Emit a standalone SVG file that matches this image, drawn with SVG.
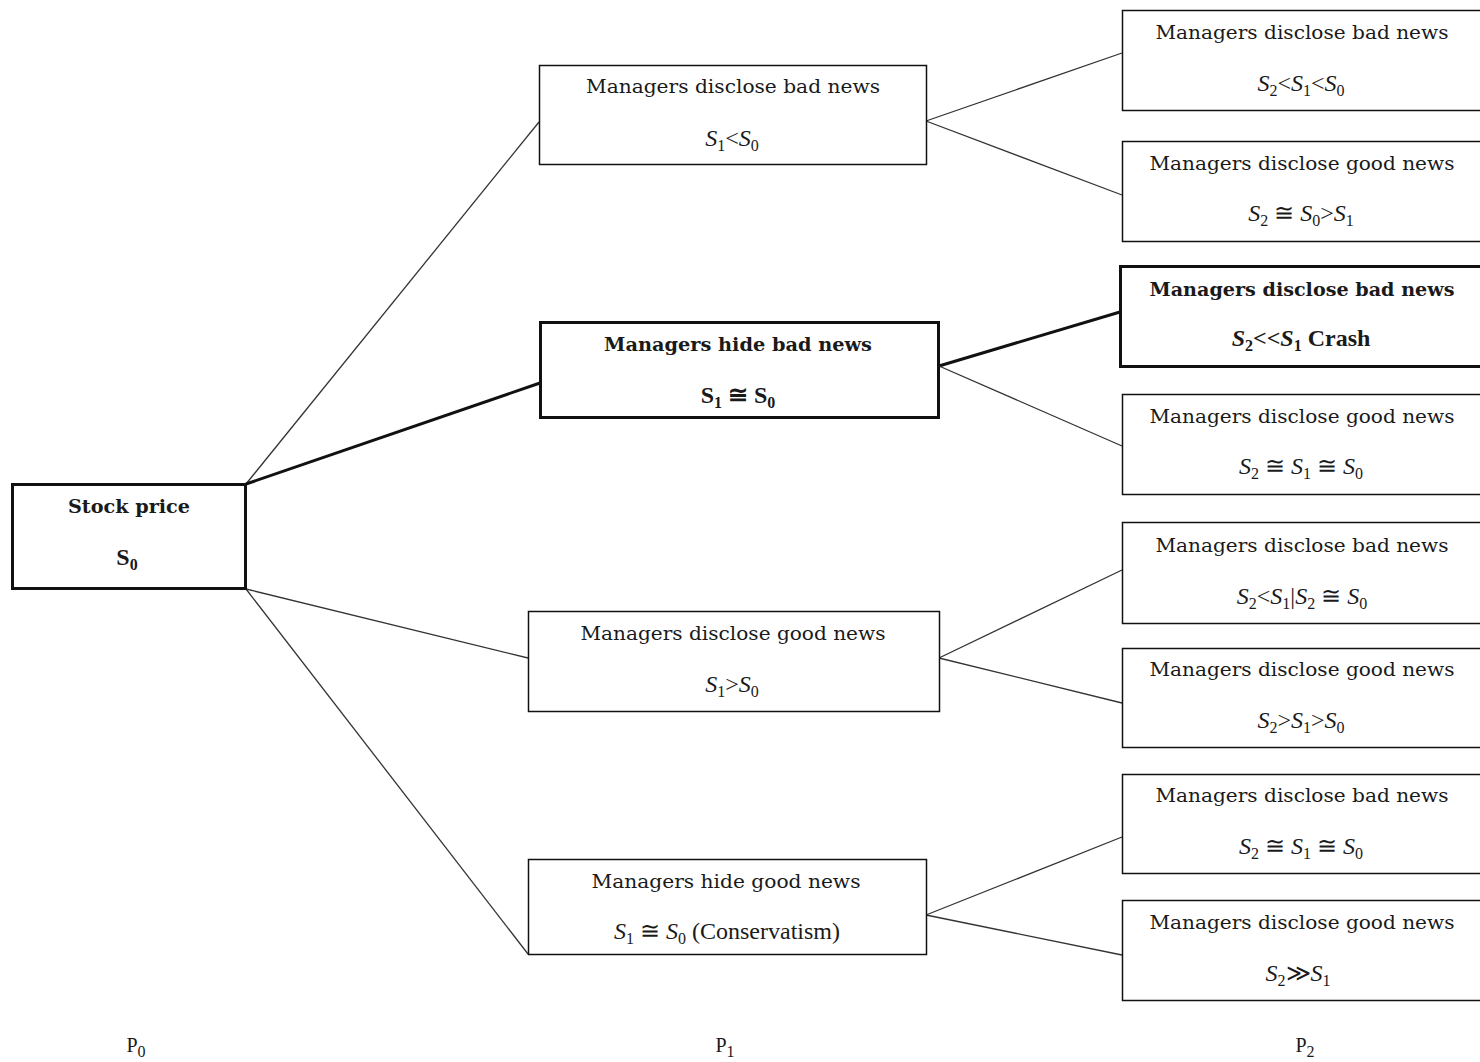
<svg xmlns="http://www.w3.org/2000/svg" width="1480" height="1062" viewBox="0 0 1480 1062">
<style>
  .box{fill:#fff;stroke:#111;stroke-width:1.5}
  .bold{stroke-width:3}
  .t{font-family:"DejaVu Serif","Liberation Serif",serif;font-size:18px;fill:#1a1a1a;text-anchor:middle}
  .f{font-family:"Liberation Serif","DejaVu Serif",serif;font-size:24px;fill:#1a1a1a;text-anchor:middle}
  .b{font-weight:bold}
  .i{font-style:italic}
  .sub{font-size:16px}
  .c{stroke:#333;stroke-width:1.3;fill:none}
  .ct{stroke:#111;stroke-width:3;fill:none}
</style>
<rect width="1480" height="1062" fill="#fff"/>
<g id="connectors">
  <line class="c" x1="246" y1="484" x2="539" y2="122"/>
  <line class="ct" x1="246" y1="484" x2="540" y2="383"/>
  <line class="c" x1="246" y1="589" x2="528" y2="658"/>
  <line class="c" x1="246" y1="589" x2="528" y2="954"/>
  <line class="c" x1="926" y1="121" x2="1122" y2="53"/>
  <line class="c" x1="926" y1="121" x2="1122" y2="195"/>
  <line class="ct" x1="939" y1="366" x2="1120" y2="312"/>
  <line class="c" x1="939" y1="366" x2="1122" y2="446"/>
  <line class="c" x1="939" y1="658" x2="1122" y2="570"/>
  <line class="c" x1="939" y1="658" x2="1122" y2="703"/>
  <line class="c" x1="926" y1="915" x2="1122" y2="837"/>
  <line class="c" x1="926" y1="915" x2="1122" y2="955"/>
</g>
<g id="root">
  <rect class="box bold" x="12.5" y="484.5" width="233" height="104"/>
  <text class="t b" x="129" y="513" textLength="122" lengthAdjust="spacingAndGlyphs">Stock price</text>
  <text class="f b" x="127" y="565">S<tspan class="sub" dy="5">0</tspan></text>
</g>
<g id="p1-bad-disclose">
  <rect class="box" x="539.5" y="65.5" width="387" height="99"/>
  <text class="t" x="733" y="93" textLength="294" lengthAdjust="spacingAndGlyphs">Managers disclose bad news</text>
  <text class="f" x="732" y="146"><tspan class="i">S</tspan><tspan class="sub" dy="5">1</tspan><tspan dy="-5">&lt;</tspan><tspan class="i">S</tspan><tspan class="sub" dy="5">0</tspan></text>
</g>
<g id="p1-bad-hide">
  <rect class="box bold" x="540.5" y="322.5" width="398" height="95"/>
  <text class="t b" x="738" y="351" textLength="268" lengthAdjust="spacingAndGlyphs">Managers hide bad news</text>
  <text class="f b" x="738" y="403">S<tspan class="sub" dy="5">1</tspan><tspan dy="-5"> ≅ S</tspan><tspan class="sub" dy="5">0</tspan></text>
</g>
<g id="p1-good-disclose">
  <rect class="box" x="528.5" y="611.5" width="411" height="100"/>
  <text class="t" x="733" y="640" textLength="305" lengthAdjust="spacingAndGlyphs">Managers disclose good news</text>
  <text class="f" x="732" y="692"><tspan class="i">S</tspan><tspan class="sub" dy="5">1</tspan><tspan dy="-5">&gt;</tspan><tspan class="i">S</tspan><tspan class="sub" dy="5">0</tspan></text>
</g>
<g id="p1-good-hide">
  <rect class="box" x="528.5" y="859.5" width="398" height="95"/>
  <text class="t" x="726" y="888" textLength="269" lengthAdjust="spacingAndGlyphs">Managers hide good news</text>
  <text class="f" x="727" y="939"><tspan class="i">S</tspan><tspan class="sub" dy="5">1</tspan><tspan dy="-5"> ≅ </tspan><tspan class="i">S</tspan><tspan class="sub" dy="5">0</tspan><tspan dy="-5"> (Conservatism)</tspan></text>
</g>
<g id="p2-1">
  <rect class="box" x="1122.5" y="10.5" width="370" height="100"/>
  <text class="t" x="1302" y="39" textLength="293" lengthAdjust="spacingAndGlyphs">Managers disclose bad news</text>
  <text class="f" x="1301" y="91"><tspan class="i">S</tspan><tspan class="sub" dy="5">2</tspan><tspan dy="-5">&lt;</tspan><tspan class="i">S</tspan><tspan class="sub" dy="5">1</tspan><tspan dy="-5">&lt;</tspan><tspan class="i">S</tspan><tspan class="sub" dy="5">0</tspan></text>
</g>
<g id="p2-2">
  <rect class="box" x="1122.5" y="141.5" width="370" height="100"/>
  <text class="t" x="1302" y="170" textLength="305" lengthAdjust="spacingAndGlyphs">Managers disclose good news</text>
  <text class="f" x="1301" y="221"><tspan class="i">S</tspan><tspan class="sub" dy="5">2</tspan><tspan dy="-5"> ≅ </tspan><tspan class="i">S</tspan><tspan class="sub" dy="5">0</tspan><tspan dy="-5">&gt;</tspan><tspan class="i">S</tspan><tspan class="sub" dy="5">1</tspan></text>
</g>
<g id="p2-3">
  <rect class="box bold" x="1120.5" y="266.5" width="372" height="100"/>
  <text class="t b" x="1302" y="296" textLength="305" lengthAdjust="spacingAndGlyphs">Managers disclose bad news</text>
  <text class="f b" x="1301" y="346"><tspan class="i">S</tspan><tspan class="sub" dy="5">2</tspan><tspan dy="-5">&lt;&lt;</tspan><tspan class="i">S</tspan><tspan class="sub" dy="5">1</tspan><tspan dy="-5"> Crash</tspan></text>
</g>
<g id="p2-4">
  <rect class="box" x="1122.5" y="394.5" width="370" height="100"/>
  <text class="t" x="1302" y="423" textLength="305" lengthAdjust="spacingAndGlyphs">Managers disclose good news</text>
  <text class="f" x="1301" y="474"><tspan class="i">S</tspan><tspan class="sub" dy="5">2</tspan><tspan dy="-5"> ≅ </tspan><tspan class="i">S</tspan><tspan class="sub" dy="5">1</tspan><tspan dy="-5"> ≅ </tspan><tspan class="i">S</tspan><tspan class="sub" dy="5">0</tspan></text>
</g>
<g id="p2-5">
  <rect class="box" x="1122.5" y="522.5" width="370" height="101"/>
  <text class="t" x="1302" y="552" textLength="293" lengthAdjust="spacingAndGlyphs">Managers disclose bad news</text>
  <text class="f" x="1302" y="604"><tspan class="i">S</tspan><tspan class="sub" dy="5">2</tspan><tspan dy="-5">&lt;</tspan><tspan class="i">S</tspan><tspan class="sub" dy="5">1</tspan><tspan dy="-5">|</tspan><tspan class="i">S</tspan><tspan class="sub" dy="5">2</tspan><tspan dy="-5"> ≅ </tspan><tspan class="i">S</tspan><tspan class="sub" dy="5">0</tspan></text>
</g>
<g id="p2-6">
  <rect class="box" x="1122.5" y="648.5" width="370" height="99"/>
  <text class="t" x="1302" y="676" textLength="305" lengthAdjust="spacingAndGlyphs">Managers disclose good news</text>
  <text class="f" x="1301" y="728"><tspan class="i">S</tspan><tspan class="sub" dy="5">2</tspan><tspan dy="-5">&gt;</tspan><tspan class="i">S</tspan><tspan class="sub" dy="5">1</tspan><tspan dy="-5">&gt;</tspan><tspan class="i">S</tspan><tspan class="sub" dy="5">0</tspan></text>
</g>
<g id="p2-7">
  <rect class="box" x="1122.5" y="774.5" width="370" height="99"/>
  <text class="t" x="1302" y="802" textLength="293" lengthAdjust="spacingAndGlyphs">Managers disclose bad news</text>
  <text class="f" x="1301" y="854"><tspan class="i">S</tspan><tspan class="sub" dy="5">2</tspan><tspan dy="-5"> ≅ </tspan><tspan class="i">S</tspan><tspan class="sub" dy="5">1</tspan><tspan dy="-5"> ≅ </tspan><tspan class="i">S</tspan><tspan class="sub" dy="5">0</tspan></text>
</g>
<g id="p2-8">
  <rect class="box" x="1122.5" y="900.5" width="370" height="100"/>
  <text class="t" x="1302" y="929" textLength="305" lengthAdjust="spacingAndGlyphs">Managers disclose good news</text>
  <text class="f" x="1298" y="981"><tspan class="i">S</tspan><tspan class="sub" dy="5">2</tspan><tspan dy="-5">≫</tspan><tspan class="i">S</tspan><tspan class="sub" dy="5">1</tspan></text>
</g>
<g id="period-labels">
  <text class="f" x="136" y="1052" style="font-size:20px">P<tspan class="sub" dy="5">0</tspan></text>
  <text class="f" x="725" y="1052" style="font-size:20px">P<tspan class="sub" dy="5">1</tspan></text>
  <text class="f" x="1305" y="1052" style="font-size:20px">P<tspan class="sub" dy="5">2</tspan></text>
</g>
</svg>
